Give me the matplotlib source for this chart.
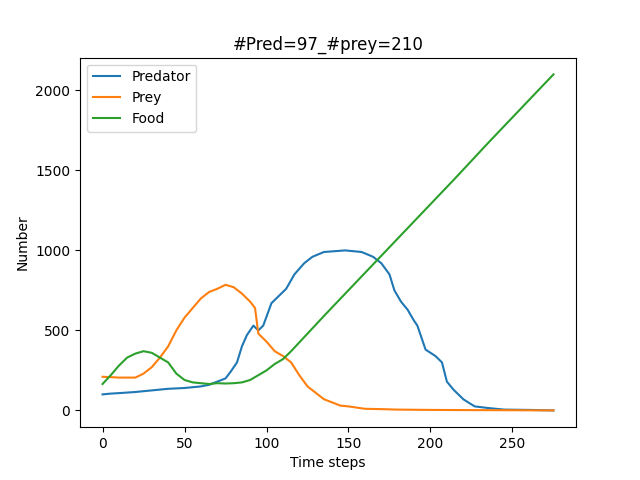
import matplotlib
matplotlib.use("Agg")
import matplotlib.pyplot as plt

pred_t = [0,5,10,20,30,40,50,60,65,70,75,78,82,85,88,92,95,98,103,108,112,117,123,128,135,148,158,165,170,175,178,182,186,190,192,197,203,207,210,214,220,223,227,235,245,260,275]
pred_v = [100,105,108,115,125,135,140,150,160,180,200,240,300,400,470,530,500,530,670,720,760,850,920,960,990,1000,990,960,920,850,750,680,630,560,530,380,340,300,180,130,70,50,25,15,5,3,0]

prey_t = [0,5,10,20,25,30,35,40,45,50,55,60,65,70,75,80,85,90,93,95,100,105,110,115,120,125,130,135,140,145,150,160,170,180,200,220,250,275]
prey_v = [210,208,205,205,230,270,330,400,500,580,640,700,740,760,785,770,730,680,640,480,430,370,340,300,220,150,110,70,50,30,25,10,8,5,3,2,1,0]

food_t = [0,5,10,15,20,25,30,35,40,45,50,55,60,65,70,75,80,85,90,95,100,105,110,115,135,155,175,195,215,235,255,275]
food_v = [165,220,280,330,355,370,360,330,300,230,190,175,170,165,170,168,170,175,190,220,250,290,320,370,590,805,1020,1235,1450,1670,1885,2100]

fig, ax = plt.subplots(figsize=(6.4, 4.8), dpi=100)
ax.plot(pred_t, pred_v, label="Predator")
ax.plot(prey_t, prey_v, label="Prey")
ax.plot(food_t, food_v, label="Food")
ax.set_title("#Pred=97_#prey=210")
ax.set_xlabel("Time steps")
ax.set_ylabel("Number")
ax.legend(loc="upper left")
fig.savefig("out.png")
